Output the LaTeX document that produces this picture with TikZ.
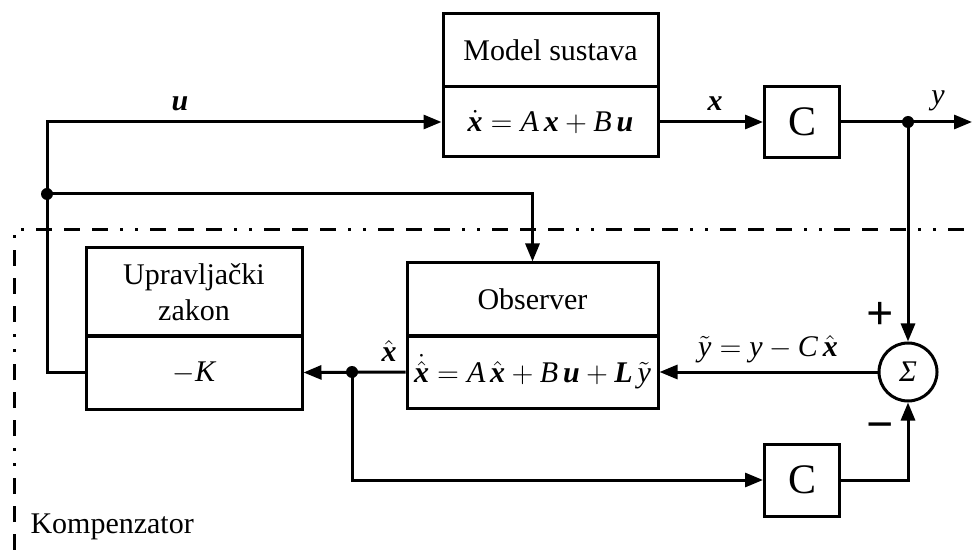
\documentclass[tikz,border=0pt]{standalone}
\usepackage{amsmath}
\usepackage{fontspec}
\setmainfont{Liberation Serif}
\usetikzlibrary{arrows.meta}
\newcommand\bv[1]{\text{\bfseries\itshape #1}}
\newcommand\iv[1]{\text{\itshape #1}}
\begin{document}
\begin{tikzpicture}[
    x=0.5pt, y=-0.5pt,
    line width=1.5pt,
    >={Triangle[length=9pt,width=7pt]},
    every node/.style={font=\fontsize{15}{18}\selectfont, inner sep=0pt},
    blk/.style={draw, align=center, minimum width=#1},
    cblk/.style={blk=37.5pt, font=\fontsize{21}{24}\selectfont},
    kompborder/.style={dash pattern=on 8pt off 6pt on 8pt off 6pt on 8pt off 6pt on 1.5pt off 6pt on 1.5pt off 6pt}
    ]
    \useasboundingbox (0,0) rectangle (973,550);
    \node[blk=107.5pt, minimum height=36.5pt] (modelTop) at (550.5,50.5) {Model sustava};
    \node[blk=107.5pt, minimum height=35pt] (modelEq) at (550.5,122) {$\dot{\bv{x}} = \iv{A}\,\bv{x} + \iv{B}\,\bv{u}$};
    \node[cblk, minimum height=35.5pt] (C1) at (802,122) {C};
    \node[blk=125.5pt, minimum height=36.5pt] (obsTop) at (532.5,299.5) {Observer};
    \node[blk=125.5pt, minimum height=36pt] (obsEq) at (532.5,372) {$\dot{\hat{\bv{x}}} = \iv{A}\,\hat{\bv{x}} + \iv{B}\,\bv{u} + \bv{L}\,\tilde{\iv{y}}$};
    \node[blk=108pt, minimum height=44pt] (lawTop) at (194,292) {Upravljački\\zakon};
    \node[blk=108pt, minimum height=36.5pt] (lawEq) at (194,372.5) {$-\iv{K}$};
    \node[cblk, minimum height=36pt] (C2) at (802,480) {C};
    \node[draw, circle, minimum size=29pt] (sum) at (908,372) {\itshape Σ};

    \coordinate (ucorner) at (47,122);
    \coordinate (ujunc) at (47,194);
    \coordinate (yjunc) at (908,122);
    \coordinate (yout) at (972,122);
    \coordinate (xjunc) at (352,372);

    \draw[->] (lawEq.west) -| (ucorner) -- (modelEq.west);
    \draw[->] (ujunc) -| (obsTop.north);
    \draw[->] (modelEq.east) -- (C1.west);
    \draw[->] (C1.east) -- (yout);
    \draw[->] (yjunc) -- (sum.north);
    \draw[->] (sum.west) -- (obsEq.east);
    \draw[->] (obsEq.west) -- (lawEq.east);
    \draw[->] (xjunc) |- (C2.west);
    \draw[->] (C2.east) -| (sum.south);
    \fill (ujunc) circle[radius=3pt];
    \fill (yjunc) circle[radius=3pt];
    \fill (xjunc) circle[radius=3pt];

    \node (uLbl) at (180,104) {$\bv{u}$};
    \node (xLbl) at (715,104) {$\bv{x}$};
    \node (yLbl) at (938,101) {$\iv{y}$};
    \node (xhatLbl) at (389,351) {$\hat{\bv{x}}$};
    \node (ytLbl) at (768,349) {$\tilde{\iv{y}} = \iv{y} - \iv{C}\,\hat{\bv{x}}$};
    \node (plusLbl) at (880,316) {\fontsize{24}{24}\selectfont\bfseries +};
    \node (minusLbl) at (880,432) {\fontsize{24}{24}\selectfont\bfseries −};

    \coordinate (kompBL) at (14,550);
    \coordinate (kompTL) at (14,230);
    \coordinate (kompTR) at (973,230);
    \draw[kompborder] (kompBL) -- (kompTL) -- (kompTR);
    \node[anchor=west] (kompLbl) at (29,527) {Kompenzator};
\end{tikzpicture}
\end{document}
